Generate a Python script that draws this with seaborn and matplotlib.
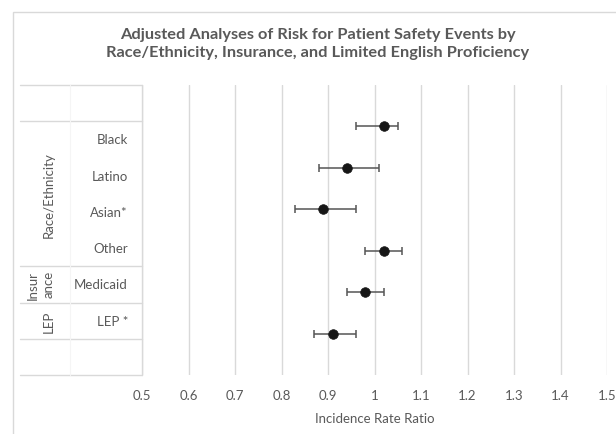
import matplotlib
matplotlib.use("Agg")
import matplotlib.pyplot as plt
import seaborn as sns
import pandas as pd
import numpy as np
from matplotlib.patches import Rectangle

# ---- data ----
categories = ["Black", "Latino", "Asian*", "Other", "Medicaid", "LEP *"]
groups = ["Race/Ethnicity", "Race/Ethnicity", "Race/Ethnicity", "Race/Ethnicity", "Insur\nance", "LEP"]
irr = [1.02, 0.94, 0.89, 1.02, 0.98, 0.91]
ci_low = [0.96, 0.88, 0.83, 0.98, 0.94, 0.87]
ci_high = [1.05, 1.01, 0.96, 1.06, 1.02, 0.96]
x_ticks = [0.5, 0.6, 0.7, 0.8, 0.9, 1.0, 1.1, 1.2, 1.3, 1.4, 1.5]
x_tick_labels = ["0.5", "0.6", "0.7", "0.8", "0.9", "1", "1.1", "1.2", "1.3", "1.4", "1.5"]
title = "Adjusted Analyses of Risk for Patient Safety Events by\nRace/Ethnicity, Insurance, and Limited English Proficiency"
xlabel = "Incidence Rate Ratio"

sns.set_theme(style="white")
plt.rcParams['font.family'] = ['Lato', 'DejaVu Sans']

W, H = 616, 435
fig = plt.figure(figsize=(W / 100, H / 100), dpi=100)
TXT = "#595959"
GRID = "#d9d9d9"
FS = 9.5

n = len(categories)
df = pd.DataFrame({"cat": categories, "irr": irr, "lo": ci_low, "hi": ci_high,
                   "y": [n - i for i in range(n)]})

def fx(px): return px / W
def fy(py): return 1 - py / H

top, bot = 86, 376
ax = fig.add_axes([fx(142), fy(bot), fx(607) - fx(142), fy(top) - fy(bot)])
ax.set_xlim(0.5, 1.5)
ax.set_ylim(0, n + 1)
for t in x_ticks:
    ax.axvline(t, color=GRID, lw=1, zorder=0)
ax.errorbar(df["irr"], df["y"], xerr=[df["irr"] - df["lo"], df["hi"] - df["irr"]],
            fmt="none", ecolor="#555555", elinewidth=1.1, capsize=3, capthick=1.1, zorder=2)
sns.scatterplot(data=df, x="irr", y="y", ax=ax, color="#161616", s=48, edgecolor="#161616",
                linewidth=0.5, zorder=3, legend=False)
ax.set_xticks(x_ticks)
ax.set_xticklabels(x_tick_labels)
ax.set_yticks([])
ax.tick_params(axis="x", length=0, pad=10, labelsize=FS, labelcolor=TXT)
ax.set_xlabel(xlabel, fontsize=FS, color=TXT, labelpad=8)
ax.set_ylabel("")
for s in ax.spines.values():
    s.set_visible(False)

# ---- table at left ----
tax = fig.add_axes([fx(20), fy(bot), fx(142) - fx(20), fy(top) - fy(bot)])
tax.set_xlim(0, 1)
nrows = n + 2
tax.set_ylim(0, nrows)
tax.axis("off")
ypos = [nrows - 1.5 - i for i in range(n)]
grp_spans = {}
for i, g in enumerate(groups):
    grp_spans.setdefault(g, []).append(ypos[i])
lines_y = {0, nrows, nrows - 1, 1}
for g, ys in grp_spans.items():
    lines_y.add(min(ys) - 0.5)
    lines_y.add(max(ys) + 0.5)
for yv in lines_y:
    tax.plot([0, 1], [yv, yv], color=GRID, lw=1, clip_on=False)
tax.plot([1, 1], [0, nrows], color=GRID, lw=1, clip_on=False)
tax.plot([0.41, 0.41], [0, nrows], color="#f5f5f5", lw=0.8, clip_on=False)
for c, yv in zip(categories, ypos):
    tax.text(0.885, yv, c, ha="right", va="center", fontsize=FS, color=TXT)
for g, ys in grp_spans.items():
    tax.text(0.282, np.mean(ys), g, rotation=90, ha="right", va="center",
             fontsize=FS, color=TXT, linespacing=1.4)

# ---- chart frame & title ----
fig.patches.append(Rectangle((fx(13), fy(H + 20)), 2, fy(13) - fy(H + 20),
                             transform=fig.transFigure, fill=False, edgecolor=GRID, lw=1))
fig.text(fx(318), fy(44), title, ha="center", va="center", fontsize=11.8,
         fontweight="bold", color=TXT, linespacing=1.3)

fig.savefig("out.png", dpi=100)
